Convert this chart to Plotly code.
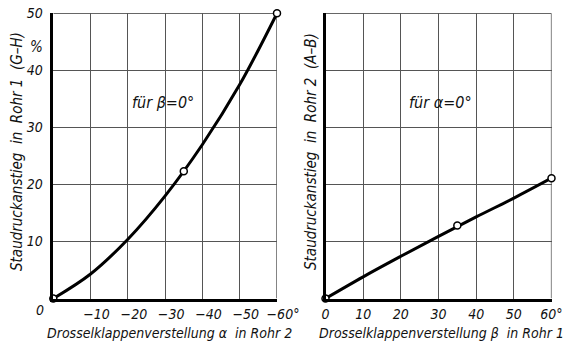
import plotly.graph_objects as go

# Left diagram: throttle setting alpha in pipe 2 vs. pressure rise in pipe 1 (beta = 0)
alpha_curve = [0, -10, -20, -30, -40, -50, -60]
rise1_curve = [0, 4.3, 10.4, 18.0, 27.0, 37.5, 50.0]
alpha_meas = [0, -35, -60]
rise1_meas = [0, 22.3, 50.0]

# Right diagram: throttle setting beta in pipe 1 vs. pressure rise in pipe 2 (alpha = 0)
beta_curve = [0, 10, 20, 30, 40, 50, 60]
rise2_curve = [0, 3.8, 7.4, 10.9, 14.3, 17.6, 21.1]
beta_meas = [0, 35, 60]
rise2_meas = [0, 12.8, 21.1]

alpha_ticks = [-10, -20, -30, -40, -50, -60]
alpha_labels = ["−10", "−20", "−30", "−40", "−50", "−60°"]
beta_ticks = [0, 10, 20, 30, 40, 50, 60]
beta_labels = ["0", "10", "20", "30", "40", "50", "60°"]
y_ticks = [10, 20, 30, 40, 50]
y_labels = ["10", "20", "30", "40", "50"]

FONT = "DejaVu Sans Condensed, Liberation Sans Narrow, DejaVu Sans"
W, H = 566, 346


def px_x(p):
    return p / W


def px_y(p):
    return 1 - p / H


fig = go.Figure()

line_style = dict(color="black", width=3)
marker_style = dict(size=7, color="white", line=dict(color="black", width=1.5))

fig.add_trace(go.Scatter(x=alpha_curve, y=rise1_curve, mode="lines",
                         line=dict(shape="spline", smoothing=1.0, **line_style),
                         xaxis="x", yaxis="y", cliponaxis=False, hoverinfo="skip"))
fig.add_trace(go.Scatter(x=alpha_meas, y=rise1_meas, mode="markers",
                         marker=marker_style, xaxis="x", yaxis="y", cliponaxis=False))
fig.add_trace(go.Scatter(x=beta_curve, y=rise2_curve, mode="lines",
                         line=dict(shape="spline", smoothing=1.0, **line_style),
                         xaxis="x2", yaxis="y2", cliponaxis=False, hoverinfo="skip"))
fig.add_trace(go.Scatter(x=beta_meas, y=rise2_meas, mode="markers",
                         marker=marker_style, xaxis="x2", yaxis="y2", cliponaxis=False))

tickfont = dict(family=FONT, size=14, color="#111", style="italic")
grid = dict(showgrid=True, gridcolor="#555", gridwidth=1, zeroline=False,
            showline=True, linecolor="black", linewidth=2.5, ticks="",
            automargin=False, tickfont=tickfont)

ydom = [px_y(298.5), px_y(13.3)]

fig.update_layout(
    template="none",
    width=W, height=H,
    margin=dict(l=0, r=0, t=0, b=0, pad=0),
    paper_bgcolor="white", plot_bgcolor="white",
    showlegend=False,
    xaxis=dict(domain=[px_x(53.3), px_x(277)], range=[0, -60], anchor="y",
               tickvals=alpha_ticks, ticktext=alpha_labels,
               ticklabelshift=-6, ticklabelstandoff=1, **grid),
    yaxis=dict(domain=ydom, range=[0, 50], anchor="x",
               tickvals=y_ticks, ticktext=y_labels, ticklabelstandoff=5, **grid),
    xaxis2=dict(domain=[px_x(325.5), px_x(551.5)], range=[0, 60], anchor="y2",
                tickvals=beta_ticks, ticktext=beta_labels,
                ticklabelstandoff=1, **grid),
    yaxis2=dict(domain=ydom, range=[0, 50], anchor="x2",
                tickvals=y_ticks, showticklabels=False, **grid),
)

# thin frame lines on the top and right edges of both diagrams
for xr, yr, xmax in (("x", "y", -60), ("x2", "y2", 60)):
    fig.add_shape(type="line", xref=xr, yref=yr, x0=0, x1=xmax, y0=50, y1=50,
                  line=dict(color="#333", width=1.2), layer="below")
    fig.add_shape(type="line", xref=xr, yref=yr, x0=xmax, x1=xmax, y0=0, y1=50,
                  line=dict(color="#333", width=1.2), layer="below")

txt = dict(family=FONT, color="#111", style="italic")
ann = [
    dict(x=px_x(40), y=px_y(310), text="0", size=14),
    dict(x=px_x(36), y=px_y(47), text="%", size=15),
    dict(x=px_x(169), y=px_y(333), text="Drosselklappenverstellung α  in Rohr 2", size=14),
    dict(x=px_x(441), y=px_y(333), text="Drosselklappenverstellung β  in Rohr 1", size=14),
    dict(x=px_x(17), y=px_y(152), text="Staudruckanstieg  in  Rohr 1  (G–H)", size=15, angle=-90),
    dict(x=px_x(311), y=px_y(152), text="Staudruckanstieg  in  Rohr 2  (A–B)", size=15, angle=-90),
    dict(x=px_x(163), y=px_y(103), text="für β=0°", size=16),
    dict(x=px_x(440), y=px_y(103), text="für α=0°", size=16),
]
for a in ann:
    fig.add_annotation(x=a["x"], y=a["y"], xref="paper", yref="paper",
                       text=a["text"], showarrow=False,
                       textangle=a.get("angle", 0),
                       font=dict(size=a["size"], **txt),
                       xanchor="center", yanchor="middle")

fig.write_html("out.html")
